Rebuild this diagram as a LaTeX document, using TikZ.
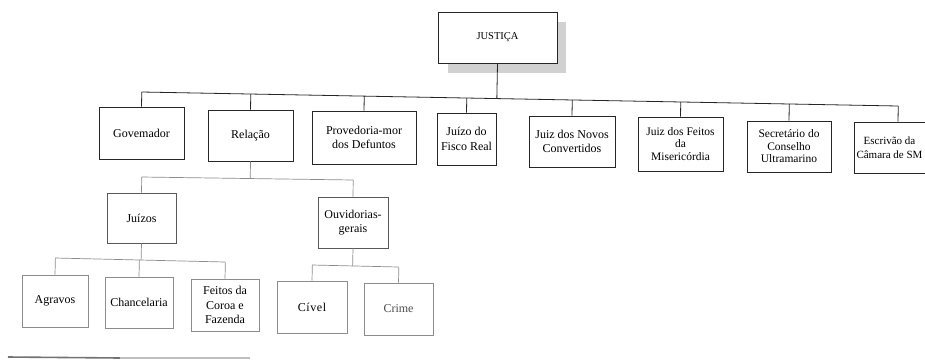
\documentclass[tikz,border=0pt]{standalone}
\usepackage{fontspec}
\setmainfont{Liberation Serif}
\usetikzlibrary{calc}
\begin{document}
\begin{tikzpicture}[x=1pt,y=-1pt,
  topbox/.style={draw=black!85, line width=0.9pt, fill=white, align=center, inner sep=1pt,
    font=\fontsize{12}{14.5}\selectfont},
  tightbox/.style={topbox, font=\fontsize{11.5}{12.5}\selectfont},
  midbox/.style={draw=black!65, line width=0.8pt, fill=white, align=center, inner sep=1pt,
    font=\fontsize{12}{14.5}\selectfont},
  lowbox/.style={draw=black!45, line width=0.7pt, fill=white, align=center, inner sep=1pt,
    font=\fontsize{12}{14.5}\selectfont},
  topline/.style={draw=black!85, line width=0.8pt},
  midline/.style={draw=black!45, line width=0.7pt},
]
\useasboundingbox (0,0) rectangle (925,362);
\fill[white] (0,0) rectangle (925,362);

% root
\fill[black!18] (448,22) rectangle (566,73);
\node[topbox, minimum width=119pt, minimum height=51pt,
  font=\fontsize{10.5}{12}\selectfont] (just) at (497.5,37.5) {JUSTIÇA};

% first level
\node[topbox, minimum width=85pt, minimum height=52pt] (gov) at (141.5,133) {Govemador};
\node[topbox, minimum width=85pt, minimum height=51pt] (rel) at (250.5,135.5) {Relação};
\node[topbox, minimum width=104pt, minimum height=53pt] (prov) at (364,137.5) {Provedoria-mor\\dos Defuntos};
\node[topbox, minimum width=59pt, minimum height=52pt] (fisco) at (466.5,139) {Juízo do\\Fisco Real};
\node[topbox, minimum width=86pt, minimum height=51pt] (novos) at (572,141.5) {Juiz dos Novos\\Convertidos};
\node[tightbox, minimum width=85pt, minimum height=54pt] (feitos) at (680.5,144) {Juiz dos Feitos\\da\\Misericórdia};
\node[tightbox, minimum width=84pt, minimum height=51pt] (sec) at (789,146.5) {Secretário do\\Conselho\\Ultramarino};
\node[topbox, minimum width=88pt, minimum height=51pt] (esc) at (898,147.5) {};
\node[align=center, inner sep=0pt, font=\fontsize{11}{13.5}\selectfont] (esctext) at (889.5,147.5) {Escrivão da\\Câmara de SM};

\coordinate (busL) at (141.5,92);
\coordinate (busR) at (898,106);
\draw[topline] (busL) -- (busR);
\draw[topline] (just.south) -- ($(busL)!(just.south)!(busR)$);
\foreach \n in {gov,rel,prov,fisco,novos,feitos,sec,esc}
  \draw[topline] (\n.north) -- ($(busL)!(\n.north)!(busR)$);

% second level
\node[midbox, minimum width=69pt, minimum height=50pt] (juizos) at (141.5,218) {Juízos};
\node[midbox, minimum width=70pt, minimum height=51pt] (ouv) at (353,222.5) {Ouvidorias-\\gerais};

\coordinate (subL) at (141.5,177);
\coordinate (subR) at (353,180);
\draw[midline] (subL) -- (subR);
\draw[midline] (rel.south) -- ($(subL)!(rel.south)!(subR)$);
\foreach \n in {juizos,ouv}
  \draw[midline] (\n.north) -- ($(subL)!(\n.north)!(subR)$);

% third level
\node[lowbox, minimum width=66pt, minimum height=52pt] (agr) at (55,301) {Agravos};
\node[lowbox, minimum width=68pt, minimum height=51pt] (chan) at (139,302.5) {Chancelaria};
\node[lowbox, minimum width=68pt, minimum height=52pt] (coroa) at (225,305) {Feitos da\\Coroa e\\Fazenda};
\node[lowbox, minimum width=70pt, minimum height=52pt] (civ) at (312,307) {C\kern0.6pt í\kern0.6pt v\kern0.6pt e\kern0.6pt l};
\node[lowbox, minimum width=69pt, minimum height=52pt, text=black!70] (crime) at (398.5,309) {Crime};

\coordinate (jL) at (55,258);
\coordinate (jR) at (225,262);
\draw[midline] (jL) -- (jR);
\draw[midline] (juizos.south) -- ($(jL)!(juizos.south)!(jR)$);
\foreach \n in {agr,chan,coroa}
  \draw[midline] (\n.north) -- ($(jL)!(\n.north)!(jR)$);

\coordinate (oL) at (312,265);
\coordinate (oR) at (398.5,267);
\draw[midline] (oL) -- (oR);
\draw[midline] (ouv.south) -- ($(oL)!(ouv.south)!(oR)$);
\foreach \n in {civ,crime}
  \draw[midline] (\n.north) -- ($(oL)!(\n.north)!(oR)$);

% page rule at bottom left
\draw[black!55, line width=1.6pt] (8,357) -- (120,358);
\draw[black!25, line width=1.2pt] (120,358) -- (250,358);
\end{tikzpicture}
\end{document}
